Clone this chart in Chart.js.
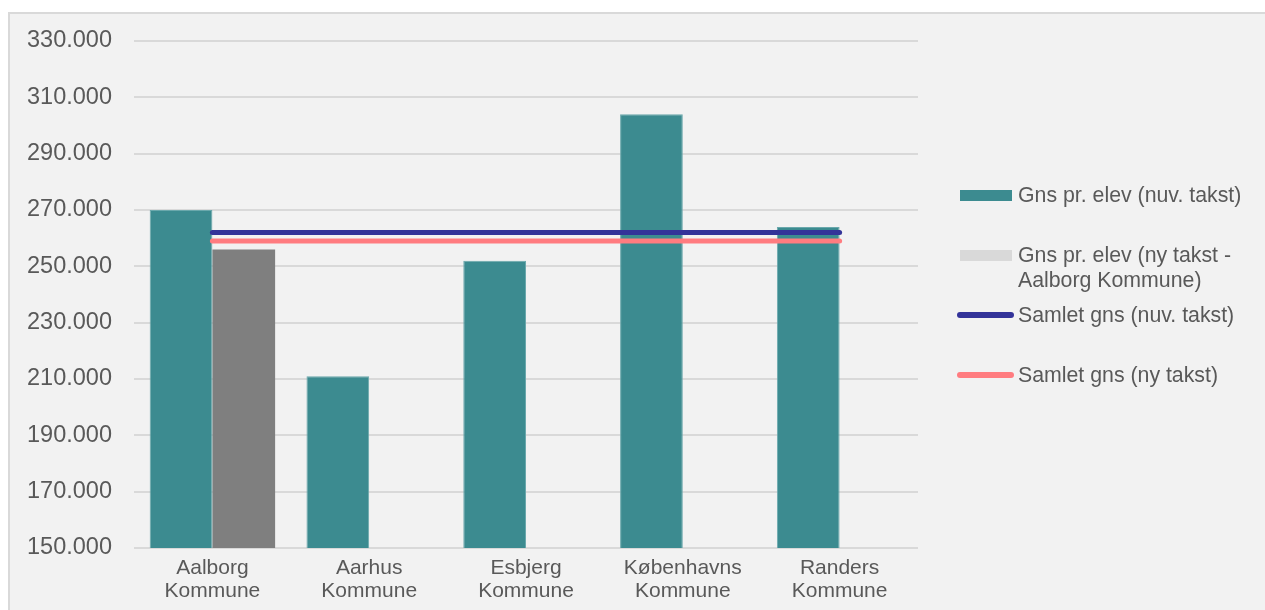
<!DOCTYPE html>
<html>
<head>
<meta charset="utf-8">
<script src="https://cdn.jsdelivr.net/npm/chart.js@4/dist/chart.umd.min.js"></script>
<style>
  body { margin: 0; background: #fff; font-family: "Liberation Sans", Arial, sans-serif; }
  #box { position: absolute; left: 8px; top: 12px; width: 1270px; height: 610px; background: #f2f2f2; border: 2px solid #d9d9d9; box-sizing: border-box; }
  #chart { position: absolute; left: 0; top: 0; }
  .legend-item { position: absolute; left: 1018px; font-size: 21.3px; line-height: 25px; color: #595959; white-space: nowrap; }
  .swatch { position: absolute; }
</style>
</head>
<body>
<div id="box"></div>
<canvas id="chart" width="1265" height="610"></canvas>
<div id="legend"></div>
<script>
// --- Data ---
const categories = [
    ['Aalborg', 'Kommune'],
    ['Aarhus', 'Kommune'],
    ['Esbjerg', 'Kommune'],
    ['Københavns', 'Kommune'],
    ['Randers', 'Kommune']
];
const gnsNuvTakst = [270000, 211000, 252000, 304000, 264000];
const gnsNyTakst = [256000, null, null, null, null];
const samletNuvTakst = [262000, 262000, 262000, 262000, 262000];
const samletNyTakst = [259000, 259000, 259000, 259000, 259000];
const yTicks = { min: 150000, max: 330000, step: 20000 };

const legendLabels = [
    ['Gns pr. elev (nuv. takst)'],
    ['Gns pr. elev (ny takst -', 'Aalborg Kommune)'],
    ['Samlet gns (nuv. takst)'],
    ['Samlet gns (ny takst)']
];

const teal = '#3c8b90';
const gray = '#7f7f7f';
const navy = '#333399';
const pink = '#ff7c80';

function formatDa(v) {
    return String(v).replace(/\B(?=(\d{3})+(?!\d))/g, '.');
}

const ctx = document.getElementById('chart').getContext('2d');
new Chart(ctx, {
    type: 'bar',
    data: {
        labels: categories,
        datasets: [
            { label: legendLabels[0].join(' '), data: gnsNuvTakst, backgroundColor: teal, borderColor: '#6aa8ac', borderWidth: 1, order: 2 },
            { label: legendLabels[1].join(' '), data: gnsNyTakst, backgroundColor: gray, order: 2 },
            { type: 'line', label: legendLabels[2].join(' '), data: samletNuvTakst, borderColor: navy, borderWidth: 5, borderCapStyle: 'round', pointRadius: 0, fill: false, order: 1 },
            { type: 'line', label: legendLabels[3].join(' '), data: samletNyTakst, borderColor: pink, borderWidth: 5, borderCapStyle: 'round', pointRadius: 0, fill: false, order: 1 }
        ]
    },
    options: {
        responsive: false,
        animation: false,
        layout: { padding: { left: 0, top: 41, right: 347, bottom: 0 } },
        datasets: { bar: { categoryPercentage: 0.8, barPercentage: 1.0 } },
        plugins: { legend: { display: false }, tooltip: { enabled: false } },
        scales: {
            x: {
                grid: { display: false },
                border: { display: false },
                ticks: { color: '#595959', font: { family: 'Liberation Sans', size: 21, lineHeight: 1.1 }, padding: 1, maxRotation: 0 },
                afterFit: s => { s.height = 62; }
            },
            y: {
                min: yTicks.min,
                max: yTicks.max,
                border: { display: false },
                grid: { color: '#d9d9d9', lineWidth: 2, drawTicks: false },
                ticks: {
                    stepSize: yTicks.step,
                    color: '#595959',
                    padding: 22,
                    font: { family: 'Liberation Sans', size: 23.5 },
                    callback: v => formatDa(v)
                },
                afterFit: s => { s.width = 134; }
            }
        }
    }
});

// --- Legend (HTML) ---
const legendEl = document.getElementById('legend');
const legendStyles = [
    { color: teal, kind: 'bar', center: 195 },
    { color: '#d9d9d9', kind: 'bar', center: 255 },
    { color: navy, kind: 'line', center: 315 },
    { color: pink, kind: 'line', center: 375 }
];
legendLabels.forEach((lines, i) => {
    const st = legendStyles[i];
    const item = document.createElement('div');
    item.className = 'legend-item';
    item.style.top = (st.center - 12.5) + 'px';
    item.innerHTML = lines.join('<br>');
    legendEl.appendChild(item);

    const sw = document.createElement('div');
    sw.className = 'swatch';
    sw.style.background = st.color;
    if (st.kind === 'bar') {
        sw.style.left = '960px';
        sw.style.width = '52px';
        sw.style.height = '11px';
        sw.style.top = (st.center - 5.5) + 'px';
    } else {
        sw.style.left = '957px';
        sw.style.width = '57px';
        sw.style.height = '6px';
        sw.style.borderRadius = '3px';
        sw.style.top = (st.center - 3) + 'px';
    }
    legendEl.appendChild(sw);
});
</script>
</body>
</html>
